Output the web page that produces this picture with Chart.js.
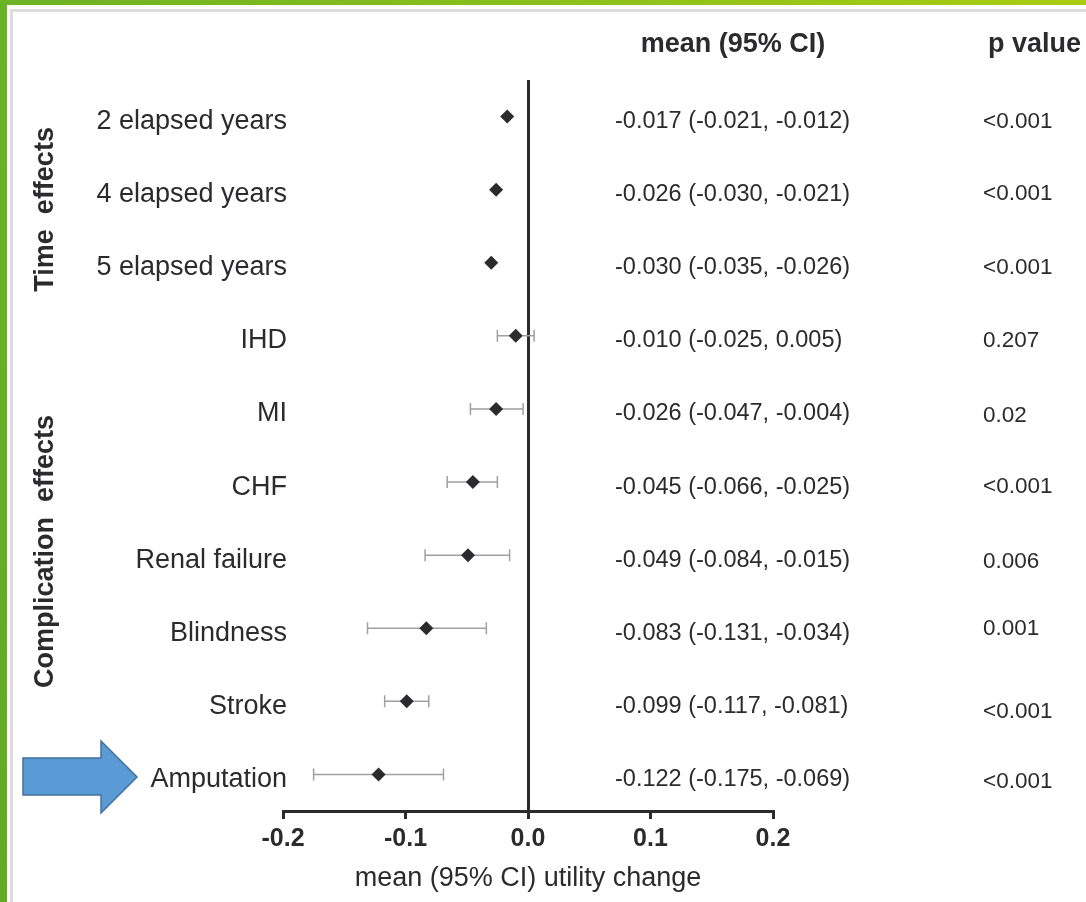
<!DOCTYPE html>
<html>
<head>
<meta charset="utf-8">
<script src="https://cdn.jsdelivr.net/npm/chart.js@4"></script>
<style>
  html, body { margin: 0; padding: 0; background: #fff; }
  #stage { position: relative; width: 1086px; height: 902px; overflow: hidden; background: #fff; }
  .frame-left { position: absolute; left: 0; top: 0; width: 7px; height: 902px; background: linear-gradient(#6cb225, #64a922); }
  .frame-top { position: absolute; left: 0; top: 0; width: 1086px; height: 5px; background: linear-gradient(90deg, #6cb225, #a9cd12); }
  .shadow { position: absolute; left: 10px; top: 9px; right: 0; bottom: 0; border-left: 3px solid #dcdcdc; border-top: 3px solid #dcdcdc; }
  #chart { position: absolute; left: 0; top: 0; }
  #arrow { position: absolute; left: 0; top: 0; }
</style>
</head>
<body>
<div id="stage">
  <div class="frame-left"></div>
  <div class="frame-top"></div>
  <div class="shadow"></div>
  <canvas id="chart" width="1086" height="902"></canvas>
  <svg id="arrow" width="160" height="902">
    <polygon points="23,758 101,758 101,741 137,777 101,813 101,795 23,795" fill="#5b9bd5" stroke="#41719c" stroke-width="1.5"/>
  </svg>
</div>
<script>
// rows, top to bottom
const labels = ['2 elapsed years', '4 elapsed years', '5 elapsed years', 'IHD', 'MI', 'CHF', 'Renal failure', 'Blindness', 'Stroke', 'Amputation'];
const means  = [-0.017, -0.026, -0.030, -0.010, -0.026, -0.045, -0.049, -0.083, -0.099, -0.122];
const lower  = [-0.021, -0.030, -0.035, -0.025, -0.047, -0.066, -0.084, -0.131, -0.117, -0.175];
const upper  = [-0.012, -0.021, -0.026,  0.005, -0.004, -0.025, -0.015, -0.034, -0.081, -0.069];
const pValues = ['<0.001', '<0.001', '<0.001', '0.207', '0.02', '<0.001', '0.006', '0.001', '<0.001', '<0.001'];
const xTicks = ['-0.2', '-0.1', '0.0', '0.1', '0.2'];
// group titles, centred at a row position
const groups = [
  { name: 'Time  effects', at: 1.27 },
  { name: 'Complication  effects', at: 5.95 }
];

const ink = '#2b2b2d';
const font = 'Arial, "Liberation Sans", sans-serif';
const markerR = 7;
// small vertical nudges of the p value column
const pNudge = [5, 4, 5, 5, 7, 5, 7, 1, 10, 7];

const fmt = v => v.toFixed(3);

const forestText = {
  id: 'forestText',
  beforeDatasetsDraw(chart) {
    const { ctx } = chart;
    const xs = chart.scales.x, ys = chart.scales.y;
    ctx.save();
    // confidence intervals
    ctx.strokeStyle = '#a0a0a0';
    ctx.lineWidth = 1.5;
    labels.forEach((l, i) => {
      const y = ys.getPixelForValue(i);
      const cx = xs.getPixelForValue(means[i]);
      const x1 = xs.getPixelForValue(lower[i]);
      const x2 = xs.getPixelForValue(upper[i]);
      if (cx - x1 < markerR && x2 - cx < markerR) return;
      ctx.beginPath();
      ctx.moveTo(x1, y); ctx.lineTo(x2, y);
      ctx.moveTo(x1, y - 6); ctx.lineTo(x1, y + 6);
      ctx.moveTo(x2, y - 6); ctx.lineTo(x2, y + 6);
      ctx.stroke();
    });
    ctx.restore();
  },
  afterDraw(chart) {
    const { ctx } = chart;
    const ys = chart.scales.y;
    ctx.save();
    ctx.fillStyle = ink;
    ctx.textBaseline = 'middle';

    // headers
    ctx.font = 'bold 27px ' + font;
    ctx.textAlign = 'center';
    ctx.fillText('mean (95% CI)', 733, 45);
    ctx.textAlign = 'left';
    ctx.fillText('p value', 988, 45);

    labels.forEach((l, i) => {
      const y = ys.getPixelForValue(i);
      ctx.font = '27px ' + font;
      ctx.textAlign = 'right';
      ctx.fillText(l, 287, y + 5);
      ctx.font = '23.5px ' + font;
      ctx.textAlign = 'left';
      ctx.fillText(fmt(means[i]) + ' (' + fmt(lower[i]) + ', ' + fmt(upper[i]) + ')', 615, y + 5);
      ctx.font = '22.5px ' + font;
      ctx.fillText(pValues[i], 983, y + pNudge[i]);
    });

    // group titles, rotated
    ctx.font = 'bold 27px ' + font;
    ctx.textAlign = 'center';
    groups.forEach(g => {
      ctx.save();
      ctx.translate(46, ys.getPixelForValue(g.at));
      ctx.rotate(-Math.PI / 2);
      ctx.fillText(g.name, 0, 0);
      ctx.restore();
    });
    ctx.restore();
  }
};

new Chart(document.getElementById('chart'), {
  type: 'scatter',
  data: {
    datasets: [{
      data: means.map((m, i) => ({ x: m, y: i })),
      pointStyle: 'rectRot',
      radius: markerR,
      hoverRadius: markerR,
      backgroundColor: ink,
      borderColor: ink,
      borderWidth: 0
    }]
  },
  options: {
    responsive: false,
    animation: false,
    devicePixelRatio: 1,
    layout: { autoPadding: false, padding: { left: 283, right: 313, top: 80, bottom: 0 } },
    plugins: { legend: { display: false }, tooltip: { enabled: false } },
    scales: {
      y: { type: 'linear', min: -0.5, max: 9.5, reverse: true, display: false },
      x: {
        type: 'linear', min: -0.2, max: 0.2,
        afterFit: s => { s.height = 91; },
        border: { display: true, color: ink, width: 3 },
        grid: {
          drawOnChartArea: true,
          color: c => (c.tick && Math.abs(c.tick.value) < 1e-9) ? ink : 'rgba(0,0,0,0)',
          lineWidth: 3,
          drawTicks: true,
          tickLength: 8,
          tickColor: ink,
          tickWidth: 3
        },
        ticks: {
          stepSize: 0.1,
          padding: 5,
          color: ink,
          font: { family: font, size: 25, weight: 'bold' },
          callback: (v, i) => xTicks[i]
        },
        title: {
          display: true,
          text: 'mean (95% CI) utility change',
          color: ink,
          font: { family: font, size: 27 },
          padding: { top: 0, bottom: 7 }
        }
      }
    }
  },
  plugins: [forestText]
});
</script>
</body>
</html>
